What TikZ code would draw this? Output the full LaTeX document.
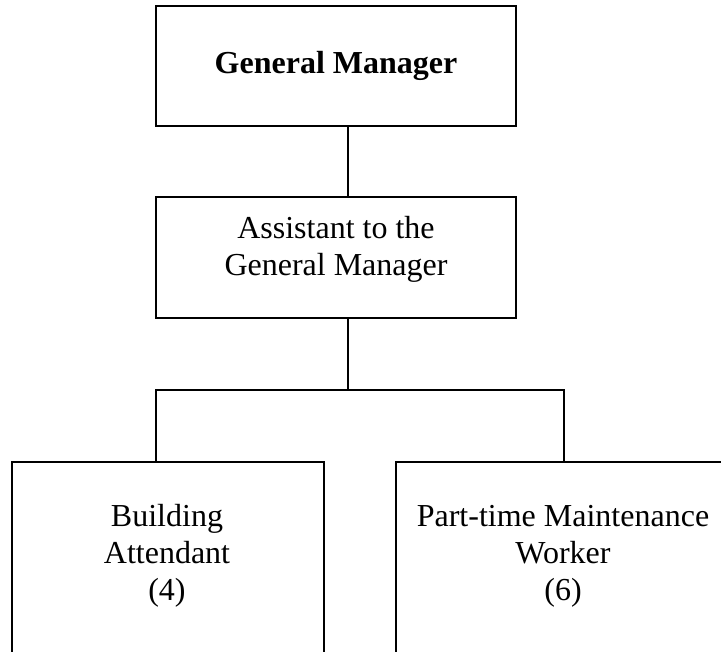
\documentclass[tikz,border=0pt]{standalone}
\usepackage{fontspec}
\setmainfont{Liberation Serif}
\begin{document}
\begin{tikzpicture}[x=1pt,y=-1pt,
  box/.style={draw,line width=2pt,rectangle,inner sep=0pt},
  txt/.style={inner sep=0pt,align=center,font=\fontsize{32}{37}\selectfont},
  conn/.style={draw,line width=2pt}]
\useasboundingbox (0,0) rectangle (721,652);
\clip (0,0) rectangle (721,652);
% boxes
\node[box,minimum width=360pt,minimum height=120pt,
      font=\fontsize{32}{37}\selectfont\bfseries] (gm) at (336,66) {General Manager};
\node[box,minimum width=360pt,minimum height=121pt] (as) at (336,257.5) {};
\node[txt] (ast) at (336,249) {Assistant to the\\General Manager};
\node[box,minimum width=312pt,minimum height=260pt] (ba) at (168,592) {};
\node[txt] (bat) at (167,556) {Building\\Attendant\\(4)};
\node[box,minimum width=336pt,minimum height=260pt] (pt) at (564,592) {};
\node[txt] (ptt) at (563,556) {Part-time Maintenance\\Worker\\(6)};
% connector coordinates
\coordinate (tx) at (348,0);
\coordinate (bus) at (348,390);
\coordinate (lx) at (156,390);
\coordinate (rx) at (564,390);
% connectors
\draw[conn] (gm.south -| tx) -- (as.north -| tx);
\draw[conn] (as.south -| bus) -- (bus);
\draw[conn] (ba.north -| lx) -- (lx) -- (rx) -- (pt.north -| rx);
\end{tikzpicture}
\end{document}
